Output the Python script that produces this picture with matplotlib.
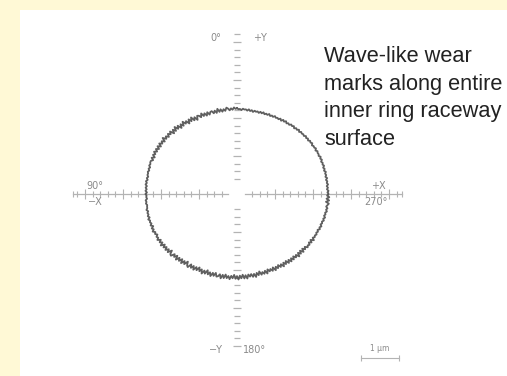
import numpy as np
import matplotlib.pyplot as plt

# roundness trace of the inner ring raceway, radius in um (chart scale), one value per degree
# angle 0 at +Y (top), counting anticlockwise: 90 = -X, 180 = -Y, 270 = +X
trace_r = [
    2.26, 2.24, 2.28, 2.22, 2.26, 2.21, 2.26, 2.29, 2.21, 2.26,
    2.20, 2.27, 2.21, 2.30, 2.20, 2.27, 2.21, 2.28, 2.27, 2.21,
    2.29, 2.21, 2.29, 2.23, 2.32, 2.23, 2.29, 2.31, 2.21, 2.31,
    2.24, 2.35, 2.26, 2.34, 2.24, 2.34, 2.29, 2.38, 2.28, 2.36,
    2.27, 2.38, 2.31, 2.41, 2.31, 2.39, 2.30, 2.41, 2.35, 2.41,
    2.34, 2.41, 2.36, 2.45, 2.35, 2.42, 2.37, 2.44, 2.36, 2.44,
    2.37, 2.44, 2.38, 2.45, 2.39, 2.44, 2.37, 2.44, 2.38, 2.43,
    2.43, 2.41, 2.43, 2.39, 2.42, 2.39, 2.42, 2.40, 2.41, 2.38,
    2.41, 2.38, 2.42, 2.39, 2.42, 2.38, 2.41, 2.38, 2.41, 2.37,
    2.41, 2.38, 2.39, 2.37, 2.41, 2.39, 2.41, 2.38, 2.39, 2.39,
    2.42, 2.38, 2.41, 2.39, 2.42, 2.38, 2.43, 2.39, 2.41, 2.38,
    2.42, 2.36, 2.42, 2.38, 2.43, 2.37, 2.40, 2.35, 2.40, 2.37,
    2.42, 2.34, 2.40, 2.34, 2.42, 2.32, 2.39, 2.32, 2.39, 2.31,
    2.38, 2.27, 2.36, 2.38, 2.28, 2.34, 2.26, 2.36, 2.26, 2.33,
    2.24, 2.34, 2.24, 2.31, 2.20, 2.29, 2.32, 2.21, 2.29, 2.21,
    2.30, 2.20, 2.27, 2.17, 2.26, 2.19, 2.29, 2.19, 2.26, 2.15,
    2.25, 2.18, 2.27, 2.17, 2.24, 2.15, 2.24, 2.22, 2.16, 2.26,
    2.16, 2.24, 2.14, 2.23, 2.17, 2.25, 2.16, 2.22, 2.13, 2.23,
    2.16, 2.25, 2.15, 2.22, 2.13, 2.23, 2.15, 2.24, 2.14, 2.20,
    2.14, 2.22, 2.15, 2.24, 2.14, 2.21, 2.12, 2.22, 2.16, 2.22,
    2.15, 2.24, 2.14, 2.21, 2.16, 2.23, 2.15, 2.25, 2.17, 2.23,
    2.16, 2.24, 2.18, 2.27, 2.18, 2.25, 2.18, 2.27, 2.20, 2.28,
    2.21, 2.28, 2.21, 2.28, 2.23, 2.32, 2.23, 2.30, 2.23, 2.32,
    2.24, 2.31, 2.26, 2.33, 2.30, 2.33, 2.28, 2.34, 2.28, 2.36,
    2.30, 2.34, 2.32, 2.35, 2.32, 2.35, 2.32, 2.37, 2.34, 2.38,
    2.34, 2.37, 2.35, 2.39, 2.36, 2.40, 2.36, 2.39, 2.37, 2.41,
    2.38, 2.41, 2.37, 2.40, 2.43, 2.35, 2.43, 2.36, 2.43, 2.37,
    2.41, 2.38, 2.41, 2.37, 2.40, 2.37, 2.41, 2.38, 2.40, 2.37,
    2.41, 2.37, 2.40, 2.38, 2.41, 2.37, 2.40, 2.37, 2.41, 2.38,
    2.40, 2.37, 2.41, 2.38, 2.41, 2.37, 2.39, 2.38, 2.40, 2.36,
    2.40, 2.37, 2.38, 2.35, 2.39, 2.36, 2.38, 2.34, 2.37, 2.34,
    2.37, 2.33, 2.35, 2.33, 2.35, 2.31, 2.35, 2.31, 2.33, 2.29,
    2.33, 2.30, 2.32, 2.28, 2.30, 2.27, 2.31, 2.27, 2.30, 2.25,
    2.29, 2.25, 2.27, 2.25, 2.28, 2.24, 2.26, 2.23, 2.27, 2.23,
    2.25, 2.22, 2.26, 2.22, 2.25, 2.21, 2.24, 2.22, 2.24, 2.20,
    2.24, 2.21, 2.25, 2.21, 2.24, 2.23, 2.25, 2.21, 2.24, 2.23,
]

axis_labels = ['0°', '+Y', '90°', '−X', '+X', '270°', '−Y', '180°']
scale_label = '1 μm'
scale_len_um = 1.0
note = 'Wave-like wear\nmarks along entire\ninner ring raceway\nsurface'

PX = 38.0               # pixels per um on the chart
W, H = 507, 376
cx, cy = 237, 194       # chart centre in pixels
grey = '#b3b3b3'
label_grey = '#8a8a8a'

fig = plt.figure(figsize=(W / 100, H / 100), dpi=100, facecolor='#fff9d6')
left, top = 20, 10
ax = fig.add_axes([left / W, 0, (W - left) / W, (H - top) / H])
ax.set_xlim((left - cx) / PX, (W - cx) / PX)
ax.set_ylim((cy - H) / PX, (cy - top) / PX)
ax.axis('off')
ax.add_patch(plt.Rectangle((0, 0), 1, 1, transform=ax.transAxes,
                           facecolor='white', edgecolor='none', zorder=0))

# horizontal axis with a gap at the centre
for x0, x1 in [(-4.32, -0.24), (0.21, 4.34)]:
    ax.plot([x0, x1], [0, 0], color=grey, lw=0.9, zorder=1)
ticks = np.round(np.arange(-4.2, 4.21, 0.2), 2)
ticks = ticks[np.abs(ticks) > 0.25]
major = np.isclose(ticks, np.round(ticks))
ax.plot(ticks[~major], np.zeros((~major).sum()), ls='none', marker='|',
        ms=4, mew=0.8, color=grey, zorder=1)
ax.plot(ticks[major], np.zeros(major.sum()), ls='none', marker='|',
        ms=7, mew=0.8, color=grey, zorder=1)
ax.plot([-4.32, 4.34], [0, 0], ls='none', marker='|', ms=5, mew=0.8, color=grey)

# vertical axis drawn as dashes only
vt = np.round(np.arange(-4.0, 4.25, 0.2), 2)
vt = vt[np.abs(vt) > 0.3]
vmajor = np.isclose(vt, np.round(vt))
ax.plot(np.zeros((~vmajor).sum()), vt[~vmajor], ls='none', marker='_',
        ms=4, mew=0.9, color=grey, zorder=1)
ax.plot(np.zeros(vmajor.sum()), vt[vmajor], ls='none', marker='_',
        ms=6, mew=0.9, color=grey, zorder=1)

# the measured trace
theta = np.deg2rad(np.arange(len(trace_r)))
r = np.array(trace_r)
x = np.append(-r * np.sin(theta), -r[0] * np.sin(theta[0]))
y = np.append(r * np.cos(theta), r[0] * np.cos(theta[0]))
ax.plot(x, y, color='#4e4e4e', lw=1.3, alpha=0.9, zorder=3)

# axis labels
pos = [(-0.55, 4.1), (0.6, 4.1), (-3.74, 0.22), (-3.74, -0.22),
       (3.72, 0.22), (3.66, -0.22), (-0.55, -4.1), (0.45, -4.1)]
for s, (px, py) in zip(axis_labels, pos):
    ax.text(px, py, s, fontsize=7, color=label_grey, ha='center', va='center')

# 1 um scale bar
sx = 3.26
sy = (cy - 358) / PX
ax.plot([sx, sx + scale_len_um], [sy, sy], color=grey, lw=0.8)
ax.plot([sx, sx + scale_len_um], [sy, sy], ls='none', marker='|', ms=5,
        mew=0.8, color=grey)
ax.text(sx + scale_len_um / 2, sy + 0.12, scale_label, fontsize=5.5,
        color=label_grey, ha='center', va='bottom')

fig.text(324 / W, 1 - 46 / H, note, fontsize=15.7, family='Liberation Sans',
         color='#222222', ha='left', va='top', linespacing=1.42)

fig.savefig('out.png', dpi=100, facecolor=fig.get_facecolor())
